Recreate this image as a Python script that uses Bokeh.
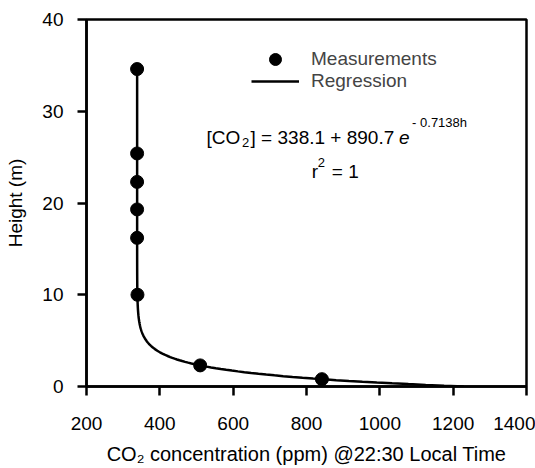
import numpy as np
from bokeh.plotting import figure
from bokeh.models import Legend, LegendItem, Label, FixedTicker, ColumnDataSource
from bokeh.embed import file_html
from bokeh.resources import INLINE

# ---- data ----
heights = [34.6, 25.4, 22.3, 19.3, 16.2, 10.0, 2.3, 0.8]
co2_ppm = [338, 338, 338, 338, 338, 339, 510, 842]

# regression coefficients printed on the chart
fit_a = 338.1
fit_b = 890.7
fit_k = 0.7138
fit_h_max = 34.6

x_ticks = [200, 400, 600, 800, 1000, 1200, 1400]
y_ticks = [0, 10, 20, 30, 40]

FONT = "Liberation Sans"

p = figure(width=535, height=468, output_backend="svg", toolbar_location=None,
           x_range=(200, 1400), y_range=(0, 40),
           min_border_left=86, min_border_right=9, min_border_top=19, min_border_bottom=82)
p.background_fill_color = "white"
p.border_fill_color = "white"
p.grid.visible = False
p.outline_line_color = "black"
p.outline_line_width = 2.5

for ax in (p.xaxis[0], p.yaxis[0]):
    ax.axis_line_width = 2.5
    ax.major_tick_line_width = 2.5
    ax.major_tick_out = 9
    ax.major_tick_in = 0
    ax.minor_tick_out = 0
    ax.minor_tick_in = 0
    ax.major_label_text_font = FONT
    ax.major_label_text_font_size = "19px"
    ax.major_label_text_color = "black"
    ax.axis_label_text_font = FONT
    ax.axis_label_text_font_style = "normal"
    ax.axis_label_text_color = "black"

p.xaxis[0].ticker = FixedTicker(ticks=x_ticks)
p.yaxis[0].ticker = FixedTicker(ticks=y_ticks)
p.xaxis[0].axis_label = "CO\u2082 concentration (ppm) @22:30 Local Time"
p.yaxis[0].axis_label = "Height (m)"
p.xaxis[0].axis_label_text_font_size = "20px"
p.yaxis[0].axis_label_text_font_size = "19px"
p.xaxis[0].major_label_standoff = 21
p.yaxis[0].major_label_standoff = 14
p.xaxis[0].axis_label_standoff = 10
p.yaxis[0].axis_label_standoff = 13

# regression curve from the printed fit
h = np.linspace(0, fit_h_max, 400)
c = fit_a + fit_b * np.exp(-fit_k * h)
reg = p.line(c, h, line_color="black", line_width=2.5)

src = ColumnDataSource(dict(x=co2_ppm, y=heights))
pts = p.scatter("x", "y", source=src, size=13, fill_color="black", line_color="black")

legend_style = dict(orientation="vertical", glyph_width=48, label_standoff=12,
                    spacing=0, padding=0, margin=0, border_line_color=None,
                    background_fill_alpha=0, label_text_font=FONT,
                    label_text_font_size="19px", label_height=20)
legend_pts = Legend(items=[LegendItem(label="Measurements", renderers=[pts])],
                    location=(165, 312), glyph_height=30, **legend_style)
legend_reg = Legend(items=[LegendItem(label="Regression", renderers=[reg])],
                    location=(165, 293), glyph_height=24, **legend_style)
p.add_layout(legend_pts, "center")
p.add_layout(legend_reg, "center")

def px_x(px):
    return 200 + (px - 86.5) * 1200 / 438.5

def px_y(py):
    return (386 - py) * 40 / 367

def lab(text, px, py, size="19px", style="normal"):
    p.add_layout(Label(x=px_x(px), y=px_y(py), text=text, text_font=FONT,
                       text_font_size=size, text_font_style=style,
                       text_baseline="alphabetic", text_align="left",
                       text_color="black"))

lab("[CO", 206, 137)
lab("2", 241.5, 142, size="13px")
lab("] = 338.1 + 890.7", 250, 137)
lab("e", 398, 137, style="italic")
lab("- 0.7138h", 411, 122, size="13px")
lab("r", 311, 171)
lab("2", 317, 161.5, size="13px")
lab("= 1", 331, 171)

open("out.html", "w").write(file_html(p, INLINE))
